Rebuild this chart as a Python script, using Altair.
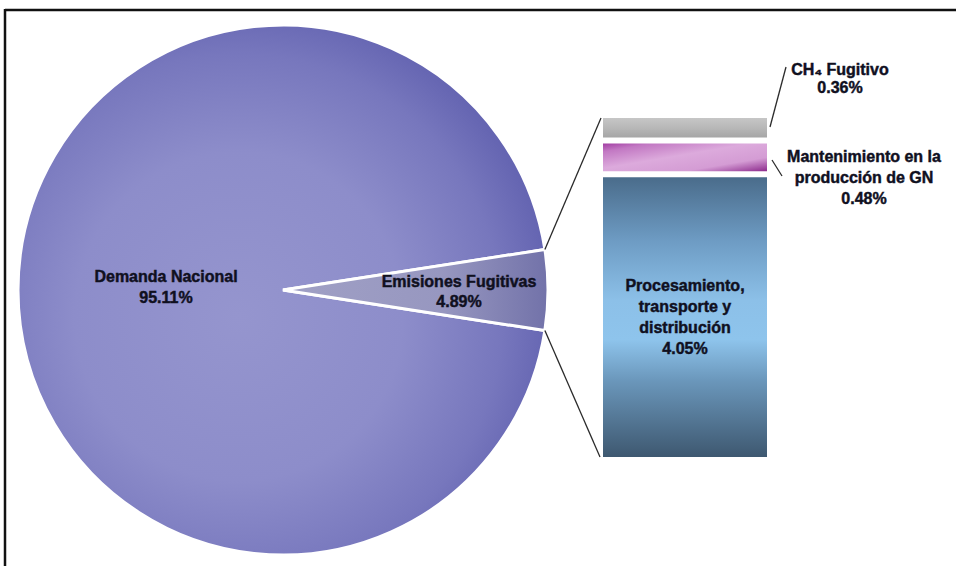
import math
import altair as alt
import pandas as pd

# --- data -------------------------------------------------------------
pie_names = ["Demanda Nacional", "Emisiones Fugitivas"]
pie_values = [95.11, 4.89]
pie_labels = ["Demanda Nacional\n95.11%", "Emisiones Fugitivas\n4.89%"]

bar_names = ["Procesamiento, transporte y distribución",
             "Mantenimiento en la producción de GN",
             "CH₄ Fugitivo"]
bar_values = [4.05, 0.48, 0.36]
bar_labels = ["Procesamiento,\ntransporte y\ndistribución\n4.05%",
              "Mantenimiento en la\nproducción de GN\n0.48%",
              "CH₄ Fugitivo\n0.36%"]

pie_df = pd.DataFrame({"name": pie_names, "value": pie_values,
                       "order": list(range(len(pie_names)))})
bar_df = pd.DataFrame({"name": bar_names, "value": bar_values,
                       "label": bar_labels,
                       "order": list(range(len(bar_names)))})

# --- layout -----------------------------------------------------------
W, H = 956, 566
CX, CY, R = 283, 290, 265           # pie centre and radius
BAR_X0, BAR_X1 = 603, 767           # bar of pie horizontal extent
BAR_BOTTOM, BAR_TOP = 463, 118      # y range of the stacked bar scale
GAP = 6                             # white gap between bar segments
FONT = "Liberation Sans"
INK = "#10101f"

# the small slice is centred on 3 o'clock
small_frac = pie_values[1] / sum(pie_values)
start = math.pi / 2 + small_frac * math.pi
theta_range = [start, start + 2 * math.pi]
half = small_frac * math.pi  # half angle of the small slice

def grad_linear(stops, x1=0, y1=0, x2=1, y2=0):
    return {"gradient": "linear", "x1": x1, "y1": y1, "x2": x2, "y2": y2,
            "stops": [{"offset": o, "color": c} for o, c in stops]}

demanda_fill = {
    "gradient": "radial", "x1": 0.42, "y1": 0.55, "r1": 0,
    "x2": 0.42, "y2": 0.55, "r2": 0.62,
    "stops": [{"offset": 0, "color": "#9595ce"},
              {"offset": 0.5, "color": "#8d8dca"},
              {"offset": 0.8, "color": "#7777bd"},
              {"offset": 1, "color": "#5f5fae"}]}
fugitivas_fill = grad_linear([(0, "#a0a0c5"), (0.6, "#9797c0"), (1, "#7272a9")])

proc_fill = grad_linear([(0, "#4a6c8b"), (0.23, "#6e9cc4"), (0.44, "#8cc0e8"),
                         (0.58, "#8ec4ec"), (0.73, "#6a96ba"), (1, "#3e5870")],
                        x1=0, y1=0, x2=0, y2=1)
mant_fill = grad_linear([(0, "#a23ea3"), (0.15, "#c278c3"), (0.45, "#dcaadc"),
                         (0.75, "#d49cd4"), (1, "#8c2a8c")],
                        x1=0, y1=0, x2=1, y2=1)
ch4_fill = grad_linear([(0, "#c6c6c6"), (0.5, "#b8b8b8"), (1, "#a6a6a6")],
                       x1=0, y1=0, x2=0, y2=1)

# --- pie ----------------------------------------------------------------
pie = alt.Chart(pie_df).mark_arc(
    radius=R, stroke="white", strokeWidth=3
).encode(
    theta=alt.Theta("value:Q", stack=True,
                    scale=alt.Scale(range=theta_range)),
    order=alt.Order("order:Q"),
    x=alt.value(CX), y=alt.value(CY),
    fill=alt.when(alt.datum.name == "Demanda Nacional")
            .then(alt.value(demanda_fill))
            .otherwise(alt.value(fugitivas_fill)),
)

TEXT_STYLE = dict(font=FONT, fontSize=16, fontWeight="bold", color=INK,
                  stroke=INK, strokeWidth=0.45, align="center",
                  baseline="middle", lineBreak="\n")

# multi-line labels: y is the centre of the first line
def text_layer(text, x, y, line_height):
    return alt.Chart(pd.DataFrame({"t": [text]})).mark_text(
        lineHeight=line_height, **TEXT_STYLE
    ).encode(x=alt.value(x), y=alt.value(y), text="t:N")

pie_text = [
    text_layer(pie_labels[0], 166, 277, 21),
    text_layer(pie_labels[1], 459, 282, 20),
]

# --- stacked bar ----------------------------------------------------------
y_scale = alt.Scale(domain=[0, sum(bar_values)],
                    range=[BAR_BOTTOM, BAR_TOP], nice=False, zero=True)

stacked = alt.Chart(bar_df).transform_stack(
    stack="value", groupby=[], as_=["v0", "v1"],
    sort=[alt.SortField("order")]
)

bar = stacked.mark_bar(orient="vertical", y2Offset=-GAP).encode(
    x=alt.value(BAR_X0), x2=alt.value(BAR_X1),
    y=alt.Y("v1:Q", scale=y_scale, axis=None),
    y2="v0:Q",
    fill=alt.when(alt.datum.order == 0).then(alt.value(proc_fill))
            .when(alt.datum.order == 1).then(alt.value(mant_fill))
            .otherwise(alt.value(ch4_fill)),
)

# label inside the largest segment, centred on the segment
LH_IN = 21
inner_label = stacked.transform_filter(alt.datum.order == 0).transform_calculate(
    mid="(datum.v0 + datum.v1) / 2"
).mark_text(
    lineHeight=LH_IN, dy=-GAP / 2 - 1.5 * LH_IN, **TEXT_STYLE
).encode(
    x=alt.value((BAR_X0 + BAR_X1) / 2),
    y=alt.Y("mid:Q", scale=y_scale, axis=None),
    text="label:N",
)

outer_text = [
    text_layer(bar_labels[2], 840, 70, 18),
    text_layer(bar_labels[1], 864, 157, 21),
]

# --- connector and leader lines --------------------------------------------
def line(x0, y0, x1, y1, color="#2a2a2a", width=1.3):
    return alt.Chart(pd.DataFrame({"k": [0]})).mark_rule(
        color=color, strokeWidth=width
    ).encode(x=alt.value(x0), y=alt.value(y0),
             x2=alt.value(x1), y2=alt.value(y1))

edge_x = CX + R * math.cos(half)
edge_dy = R * math.sin(half)
lines = [
    line(edge_x, CY - edge_dy, BAR_X0 - 2, BAR_TOP),
    line(edge_x, CY + edge_dy, BAR_X0 - 3, BAR_BOTTOM - GAP),
    line(770, 127, 786, 67),
    line(772, 160, 782, 176),
]

# frame (right and bottom edges fall outside the page)
frame = [
    line(5, 10, W, 10, color="#111111", width=2.5),
    line(5, 9, 5, H, color="#111111", width=2.5),
]

chart = alt.layer(
    pie, *pie_text, bar, inner_label, *outer_text, *lines, *frame
).properties(
    width=W, height=H,
    autosize=alt.AutoSizeParams(type="none"),
    padding=0,
    background="white",
).configure_view(stroke=None)

chart.save("out.html", embed_options={"renderer": "svg", "actions": False})
